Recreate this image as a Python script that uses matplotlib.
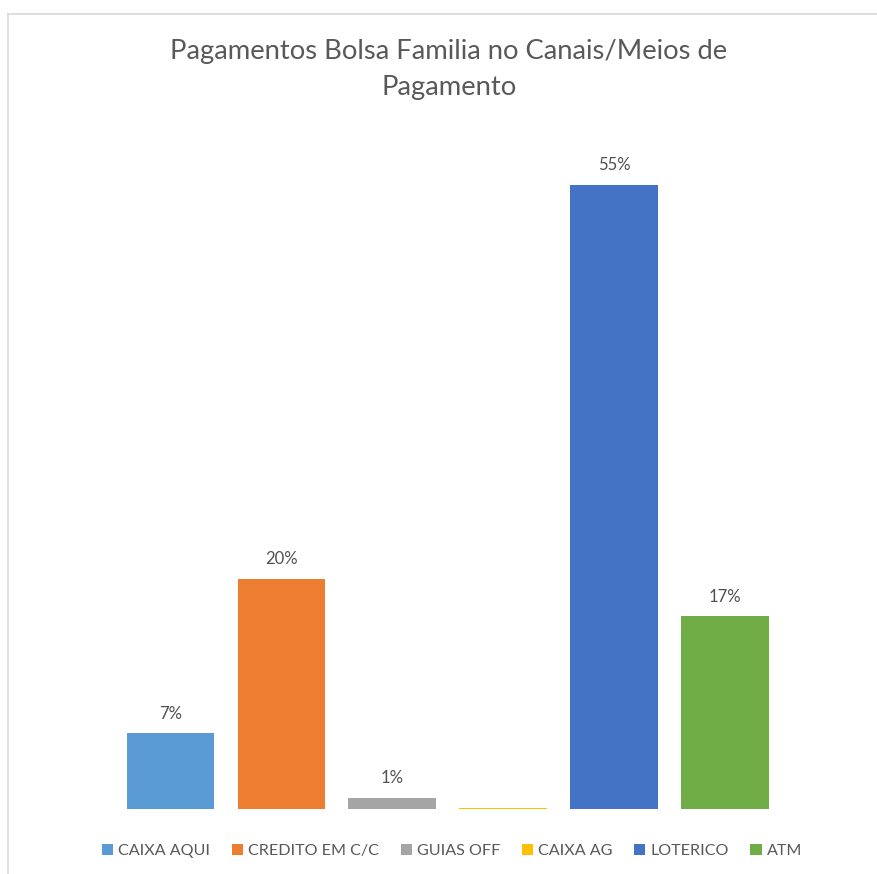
import matplotlib
matplotlib.use("Agg")
import matplotlib.pyplot as plt
from matplotlib.patches import Patch
from matplotlib.lines import Line2D

categories = ["CAIXA AQUI", "CREDITO EM C/C", "GUIAS OFF", "CAIXA AG", "LOTERICO", "ATM"]
values = [0.067, 0.203, 0.010, 0.001, 0.550, 0.170]
colors = ["#5B9BD5", "#ED7D31", "#A5A5A5", "#FFC000", "#4472C4", "#70AD47"]
title_text = "Pagamentos Bolsa Familia no Canais/Meios de\nPagamento"

plt.rcParams['font.family'] = ['Lato', 'DejaVu Sans']

W, H = 877, 874
fig = plt.figure(figsize=(W / 100, H / 100), dpi=100)
fig.patch.set_facecolor("white")

ax = fig.add_axes([115 / W, 65 / H, 665.5 / W, 681 / H])
x = list(range(len(categories)))
bars = ax.bar(x, values, width=0.79, color=colors)
for xi, v in zip(x, values):
    if round(v * 100) >= 1:
        ax.text(xi, v + 0.010, f"{round(v * 100):.0f}%", ha="center", va="bottom",
                fontsize=12, color="#505050")
ax.set_xlim(-0.5, len(categories) - 0.5)
ax.set_ylim(0, 0.6)
ax.axis("off")

# Title
fig.text(449 / W, 1 - 70 / H, title_text, ha="center", va="center",
         fontsize=19.7, color="#595959", linespacing=1.55)

# Border
fig.add_artist(Line2D([7.5 / W, 1.0], [1 - 14 / H, 1 - 14 / H], transform=fig.transFigure,
                      color="#D9D9D9", lw=1.2))
fig.add_artist(Line2D([7.5 / W, 7.5 / W], [0, 1 - 14 / H], transform=fig.transFigure,
                      color="#D9D9D9", lw=1.2))

handles = [Patch(facecolor=c, edgecolor="none") for c in colors]
leg = fig.legend(handles, categories, loc="center", bbox_to_anchor=(452 / W, 1 - 851 / H),
                 ncol=6, frameon=False, fontsize=11.6, handlelength=0.7, handleheight=0.7,
                 handletextpad=0.3, columnspacing=1.35, labelcolor="#595959")

fig.savefig("out.png", dpi=100, facecolor="white")
